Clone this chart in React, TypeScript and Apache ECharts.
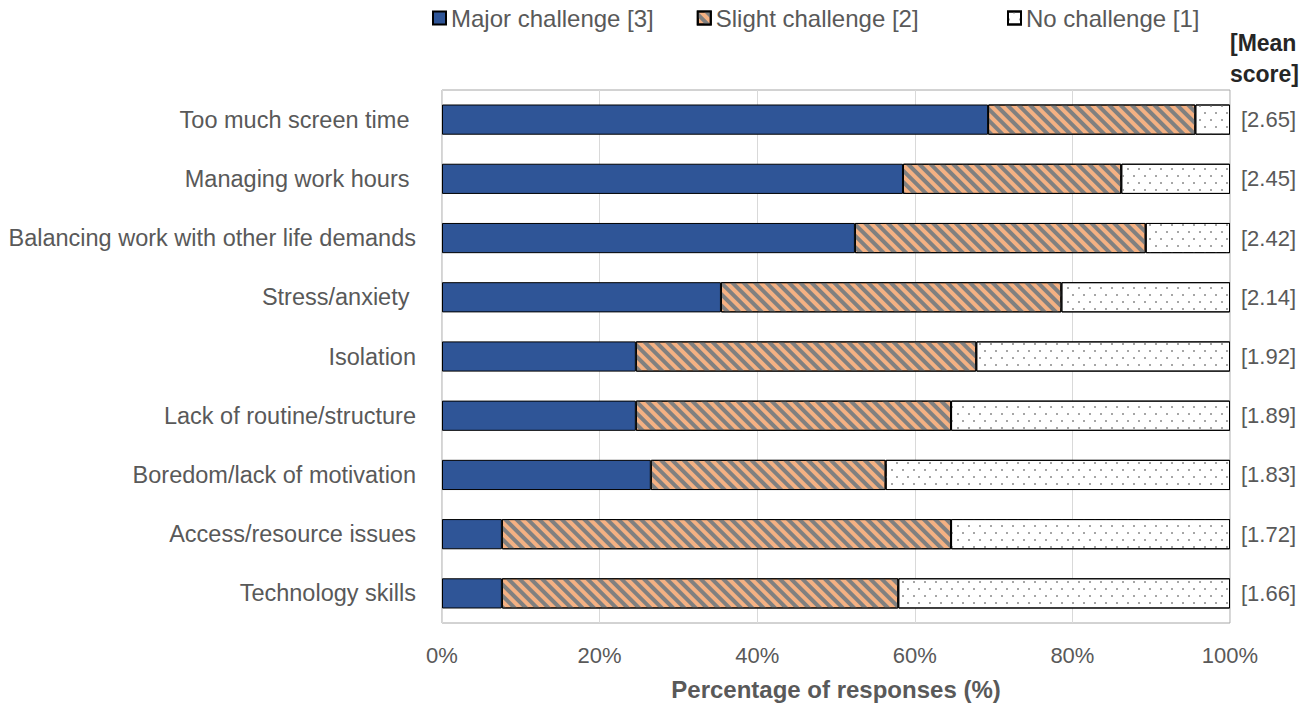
import React, { useEffect, useRef } from "react";
import * as echarts from "echarts";

const categories = [
  "Too much screen time ",
  "Managing work hours ",
  "Balancing work with other life demands",
  "Stress/anxiety ",
  "Isolation",
  "Lack of routine/structure",
  "Boredom/lack of motivation",
  "Access/resource issues",
  "Technology skills",
];
const majorChallenge = [69.3, 58.5, 52.4, 35.4, 24.6, 24.6, 26.5, 7.6, 7.6];
const slightChallenge = [26.3, 27.7, 36.9, 43.2, 43.2, 40.0, 29.8, 57.0, 50.3];
const noChallenge = [4.4, 13.8, 10.7, 21.4, 32.2, 35.4, 43.7, 35.4, 42.1];
const meanScores = ["[2.65]", "[2.45]", "[2.42]", "[2.14]", "[1.92]", "[1.89]", "[1.83]", "[1.72]", "[1.66]"];
const seriesNames = ["Major challenge [3]", "Slight challenge [2]", "No challenge [1]"];

const FONT = "'Liberation Sans', Arial, sans-serif";
const TXT = "#595959";

export default function App() {
  const ref = useRef<HTMLDivElement>(null);
  useEffect(() => {
    const chart = echarts.init(ref.current!, null, { renderer: "svg" });
    const common = {
      type: "bar",
      stack: "total",
      barWidth: "51%",
    };
    const legendBase = {
      top: 1,
      icon: "rect",
      itemWidth: 13,
      itemHeight: 13,
      itemGap: 43,
      textStyle: { fontSize: 24, color: TXT, fontFamily: FONT },
    };
    chart.setOption({
      animation: false,
      textStyle: { fontFamily: FONT, color: TXT },
      legend: [
        { ...legendBase, left: 427, data: [seriesNames[0], seriesNames[1]] },
        { ...legendBase, left: 1002, data: [seriesNames[2]] },
      ],
      grid: {
        left: 442,
        right: 70,
        top: 90,
        bottom: 84,
        show: true,
        borderColor: "#A6A6A6",
        borderWidth: 1,
        outerBoundsMode: "none",
        containLabel: false,
      },
      xAxis: {
        type: "value",
        min: 0,
        max: 100,
        interval: 20,
        axisLine: { show: false },
        axisTick: { show: false },
        splitLine: { lineStyle: { color: "#D9D9D9", width: 1 } },
        axisLabel: { formatter: "{value}%", fontSize: 22, color: TXT, margin: 21 },
        name: "Percentage of responses (%)",
        nameLocation: "middle",
        nameGap: 54,
        nameTextStyle: { fontSize: 24, fontWeight: "bold", color: TXT },
      },
      yAxis: [
        {
          type: "category",
          inverse: true,
          data: categories,
          axisLine: { show: false },
          axisTick: { show: false },
          axisLabel: { fontSize: 23.5, color: TXT, margin: 26 },
        },
        {
          type: "category",
          inverse: true,
          position: "right",
          data: meanScores,
          axisLine: { show: false },
          axisTick: { show: false },
          axisLabel: { fontSize: 22, color: TXT, margin: 11 },
        },
      ],
      graphic: [
        {
          type: "text",
          right: 1,
          top: 27,
          style: {
            text: "[Mean\nscore]",
            font: `bold 23px ${FONT}`,
            fill: "#262626",
            align: "right",
            lineHeight: 31,
          },
        },
      ],
      series: [
        {
          ...common,
          name: seriesNames[0],
          data: majorChallenge,
          itemStyle: { color: "#2F5597", borderColor: "#000", borderWidth: 1 },
        },
        {
          ...common,
          name: seriesNames[1],
          data: slightChallenge,
          itemStyle: {
            color: "#F4B183",
            borderColor: "#000",
            borderWidth: 1,
            decal: {
              symbol: "rect",
              color: "#808080",
              dashArrayX: [1, 0],
              dashArrayY: [3.5, 4],
              rotation: Math.PI / 4,
            },
          },
        },
        {
          ...common,
          name: seriesNames[2],
          data: noChallenge,
          itemStyle: {
            color: "#FFFFFF",
            borderColor: "#000",
            borderWidth: 1,
            decal: {
              symbol: "rect",
              symbolSize: 1,
              color: "#A6A6A6",
              dashArrayX: [
                [1.5, 8.5],
                [0, 5, 1.5, 3.5],
              ],
              dashArrayY: [1.5, 5],
            },
          },
        },
      ],
    });
    return () => chart.dispose();
  }, []);
  return (
    <div
      ref={ref}
      style={{ position: "fixed", left: 0, top: 0, width: 1300, height: 707, background: "#fff" }}
    />
  );
}
